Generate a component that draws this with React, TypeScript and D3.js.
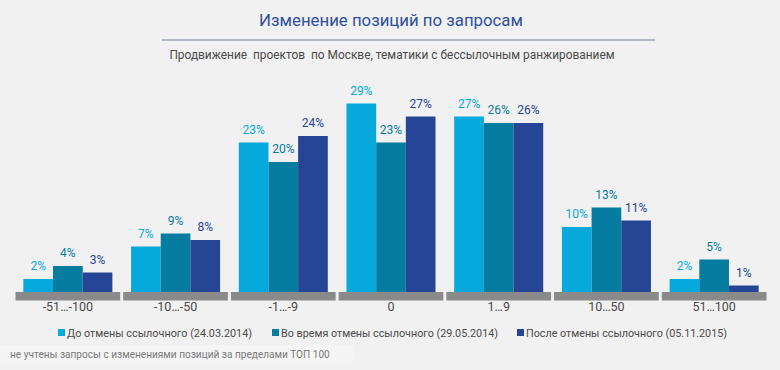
import React, { useEffect } from "react";
import * as d3 from "d3";

const categories = ["-51…-100", "-10…-50", "-1…-9", "0", "1…9", "10…50", "51…100"];
const seriesNames = [
  "До отмены ссылочного (24.03.2014)",
  "Во время отмены ссылочного (29.05.2014)",
  "После отмены ссылочного (05.11.2015)",
];
const beforeValues = [2, 7, 23, 29, 27, 10, 2];
const duringValues = [4, 9, 20, 23, 26, 13, 5];
const afterValues = [3, 8, 24, 27, 26, 11, 1];
const colors = ["#05a9dc", "#057ca0", "#264594"];

const width = 780,
  height = 370;

const App = () => {
  useEffect(() => {
    document.body.style.margin = "0";
  }, []);

  const values = [beforeValues, duringValues, afterValues];

  const x = d3.scaleBand().domain(categories).range([14, 768]).paddingInner(0);
  const xInner = d3
    .scaleBand()
    .domain(seriesNames)
    .range([0, x.bandwidth()])
    .paddingInner(0)
    .paddingOuter(0.315);
  const y = d3.scaleLinear().domain([0, 30]).range([292, 97]);

  const font = "Roboto, 'Open Sans', sans-serif";

  // legend: marker x and text width per item
  const legendX = [58, 272, 517];
  const legendW = [185, 217, 201];

  return (
    <svg width={width} height={height} style={{ display: "block", background: "#f1f1f1" }}>
      <rect x={0} y={0} width={width} height={height} fill="#f1f1f1" />
      <text
        x={391}
        y={26}
        textAnchor="middle"
        fontFamily={font}
        fontSize={16.8}
        fill="#2f4f9f"
      >
        Изменение позиций по запросам
      </text>
      <line x1={162} x2={655} y1={40} y2={40} stroke="#b3b7ca" strokeWidth={2} />
      <text
        x={392}
        y={59}
        textAnchor="middle"
        fontFamily={font}
        fontSize={11.9}
        fill="#4a4a4a"
        style={{ whiteSpace: "pre" }}
      >
        {"Продвижение  проектов  по Москве, тематики с бессылочным ранжированием"}
      </text>

      {categories.map((c, i) => (
        <g key={c} transform={`translate(${x(c)},0)`}>
          {seriesNames.map((s, j) => {
            const v = values[j][i];
            const bx = xInner(s)!;
            const bw = xInner.bandwidth();
            return (
              <g key={s}>
                <rect x={bx} y={y(v)} width={bw} height={y(0) - y(v)} fill={colors[j]} />
                <text
                  x={bx + bw / 2}
                  y={y(v) - 9}
                  textAnchor="middle"
                  fontFamily={font}
                  fontSize={12}
                  fill={colors[j]}
                >
                  {v}%
                </text>
              </g>
            );
          })}
          <rect
            x={1.5}
            y={292}
            width={x.bandwidth() - 3}
            height={8.5}
            fill="#8a8a8a"
          />
          <text
            x={x.bandwidth() / 2}
            y={311}
            textAnchor="middle"
            fontFamily={font}
            fontSize={12.5}
            fill="#4a4a4a"
          >
            {c}
          </text>
        </g>
      ))}

      {seriesNames.map((s, j) => (
        <g key={s} transform={`translate(${legendX[j]},0)`}>
          <rect x={0} y={329} width={7} height={7} fill={colors[j]} />
          <text
            x={9}
            y={337}
            fontFamily={font}
            fontSize={11.7}
            fill="#4a4a4a"
            textLength={legendW[j]}
            lengthAdjust="spacingAndGlyphs"
          >
            {s}
          </text>
        </g>
      ))}

      <rect x={0} y={345} width={353} height={17} fill="#f5f5f5" />
      <text x={10} y={358} fontFamily={font} fontSize={10.1} fill="#7a7a7a">
        не учтены запросы с изменениями позиций за пределами ТОП 100
      </text>
    </svg>
  );
};

export default App;
